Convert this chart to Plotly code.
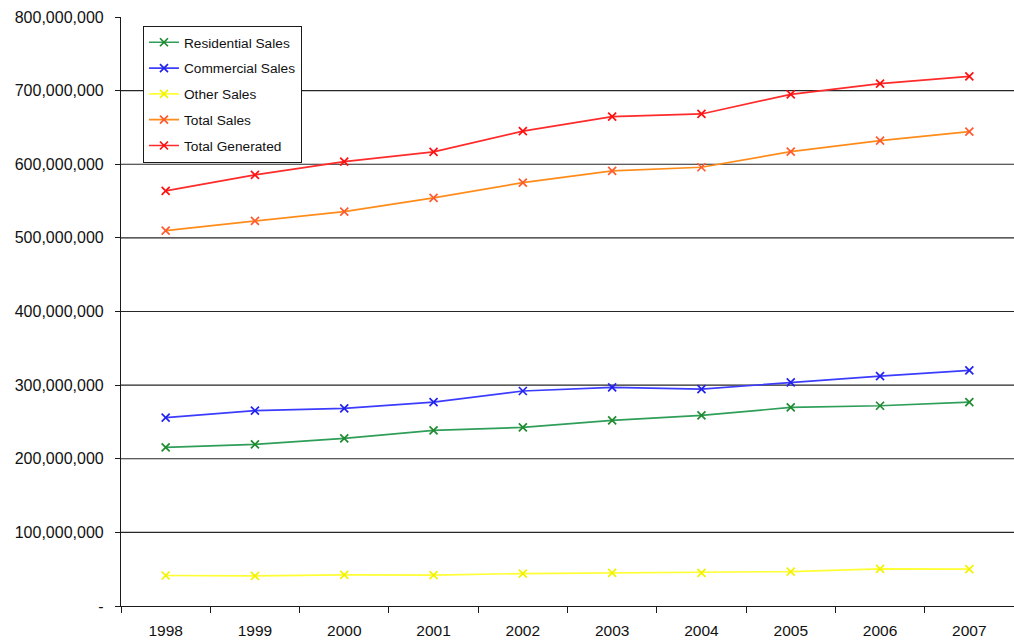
import plotly.graph_objects as go

years = ["1998", "1999", "2000", "2001", "2002", "2003", "2004", "2005", "2006", "2007"]

residential_sales = [215.5e6, 219.5e6, 227.7e6, 238.5e6, 242.6e6, 252.1e6, 258.9e6, 269.7e6, 272.0e6, 277.0e6]
commercial_sales = [255.8e6, 265.3e6, 268.4e6, 277.0e6, 292.0e6, 296.9e6, 294.7e6, 303.7e6, 312.3e6, 320.0e6]
other_sales = [41.4e6, 40.8e6, 42.3e6, 41.8e6, 44.1e6, 45.0e6, 45.0e6, 46.8e6, 50.4e6, 50.0e6]
total_sales = [509.9e6, 523.0e6, 535.7e6, 554.3e6, 575.0e6, 590.9e6, 595.9e6, 617.1e6, 632.0e6, 644.2e6]
total_generated = [563.8e6, 585.5e6, 603.5e6, 616.7e6, 645.0e6, 664.6e6, 668.3e6, 695.0e6, 709.4e6, 719.4e6]

y_ticks = [0, 100e6, 200e6, 300e6, 400e6, 500e6, 600e6, 700e6, 800e6]
y_tick_text = ["-", "100,000,000", "200,000,000", "300,000,000", "400,000,000",
               "500,000,000", "600,000,000", "700,000,000", "800,000,000"]
grid_values = [100e6, 200e6, 300e6, 400e6, 500e6, 600e6, 700e6]

series = [
    ("Residential Sales", residential_sales, "#2f9e58", "#1f8a30"),
    ("Commercial Sales", commercial_sales, "#3c3cff", "#2222ee"),
    ("Other Sales", other_sales, "#ffff33", "#f2f200"),
    ("Total Sales", total_sales, "#ff8c1a", "#ff5a30"),
    ("Total Generated", total_generated, "#ff2a2a", "#ff1010"),
]

fig = go.Figure()
for i, (name, values, line_color, marker_color) in enumerate(series):
    fig.add_trace(go.Scatter(
        x=years, y=values, name=name, mode="lines+markers",
        legendgroup=f"g{i}",
        line=dict(color=line_color, width=1.7),
        marker=dict(symbol="x-thin", size=8,
                    line=dict(color=marker_color, width=1.7)),
    ))

# horizontal gridlines (none at the top tick)
for v in grid_values:
    fig.add_shape(type="line", xref="paper", yref="y", x0=0, x1=1, y0=v, y1=v,
                  line=dict(color="#262626", width=1.2), layer="below")

fig.update_layout(
    width=1014, height=642,
    margin=dict(l=121, r=0, t=17, b=36),
    paper_bgcolor="white", plot_bgcolor="white",
    font=dict(family="Liberation Sans, Arial, sans-serif", size=13, color="#111111"),
    showlegend=True,
    legend=dict(
        x=0.0246, y=0.985, xanchor="left", yanchor="top",
        bgcolor="white", bordercolor="#1a1a1a", borderwidth=1,
        font=dict(size=13.7, color="#111111"),
        tracegroupgap=5, traceorder="grouped",
    ),
    xaxis=dict(
        type="category", range=[-0.5, 9.5],
        showline=True, linecolor="#1a1a1a", linewidth=1.2,
        ticks="outside", tickson="boundaries", ticklen=6, tickcolor="#1a1a1a",
        showgrid=False, zeroline=False,
        ticklabelstandoff=10,
        tickfont=dict(size=15.5),
    ),
    yaxis=dict(
        range=[0, 800e6], tickvals=y_ticks, ticktext=y_tick_text,
        showline=True, linecolor="#1a1a1a", linewidth=1.2,
        ticks="outside", ticklen=5, tickcolor="#1a1a1a",
        showgrid=False, zeroline=False,
        ticklabelstandoff=8,
        tickfont=dict(size=16),
    ),
)

fig.write_html("out.html")
